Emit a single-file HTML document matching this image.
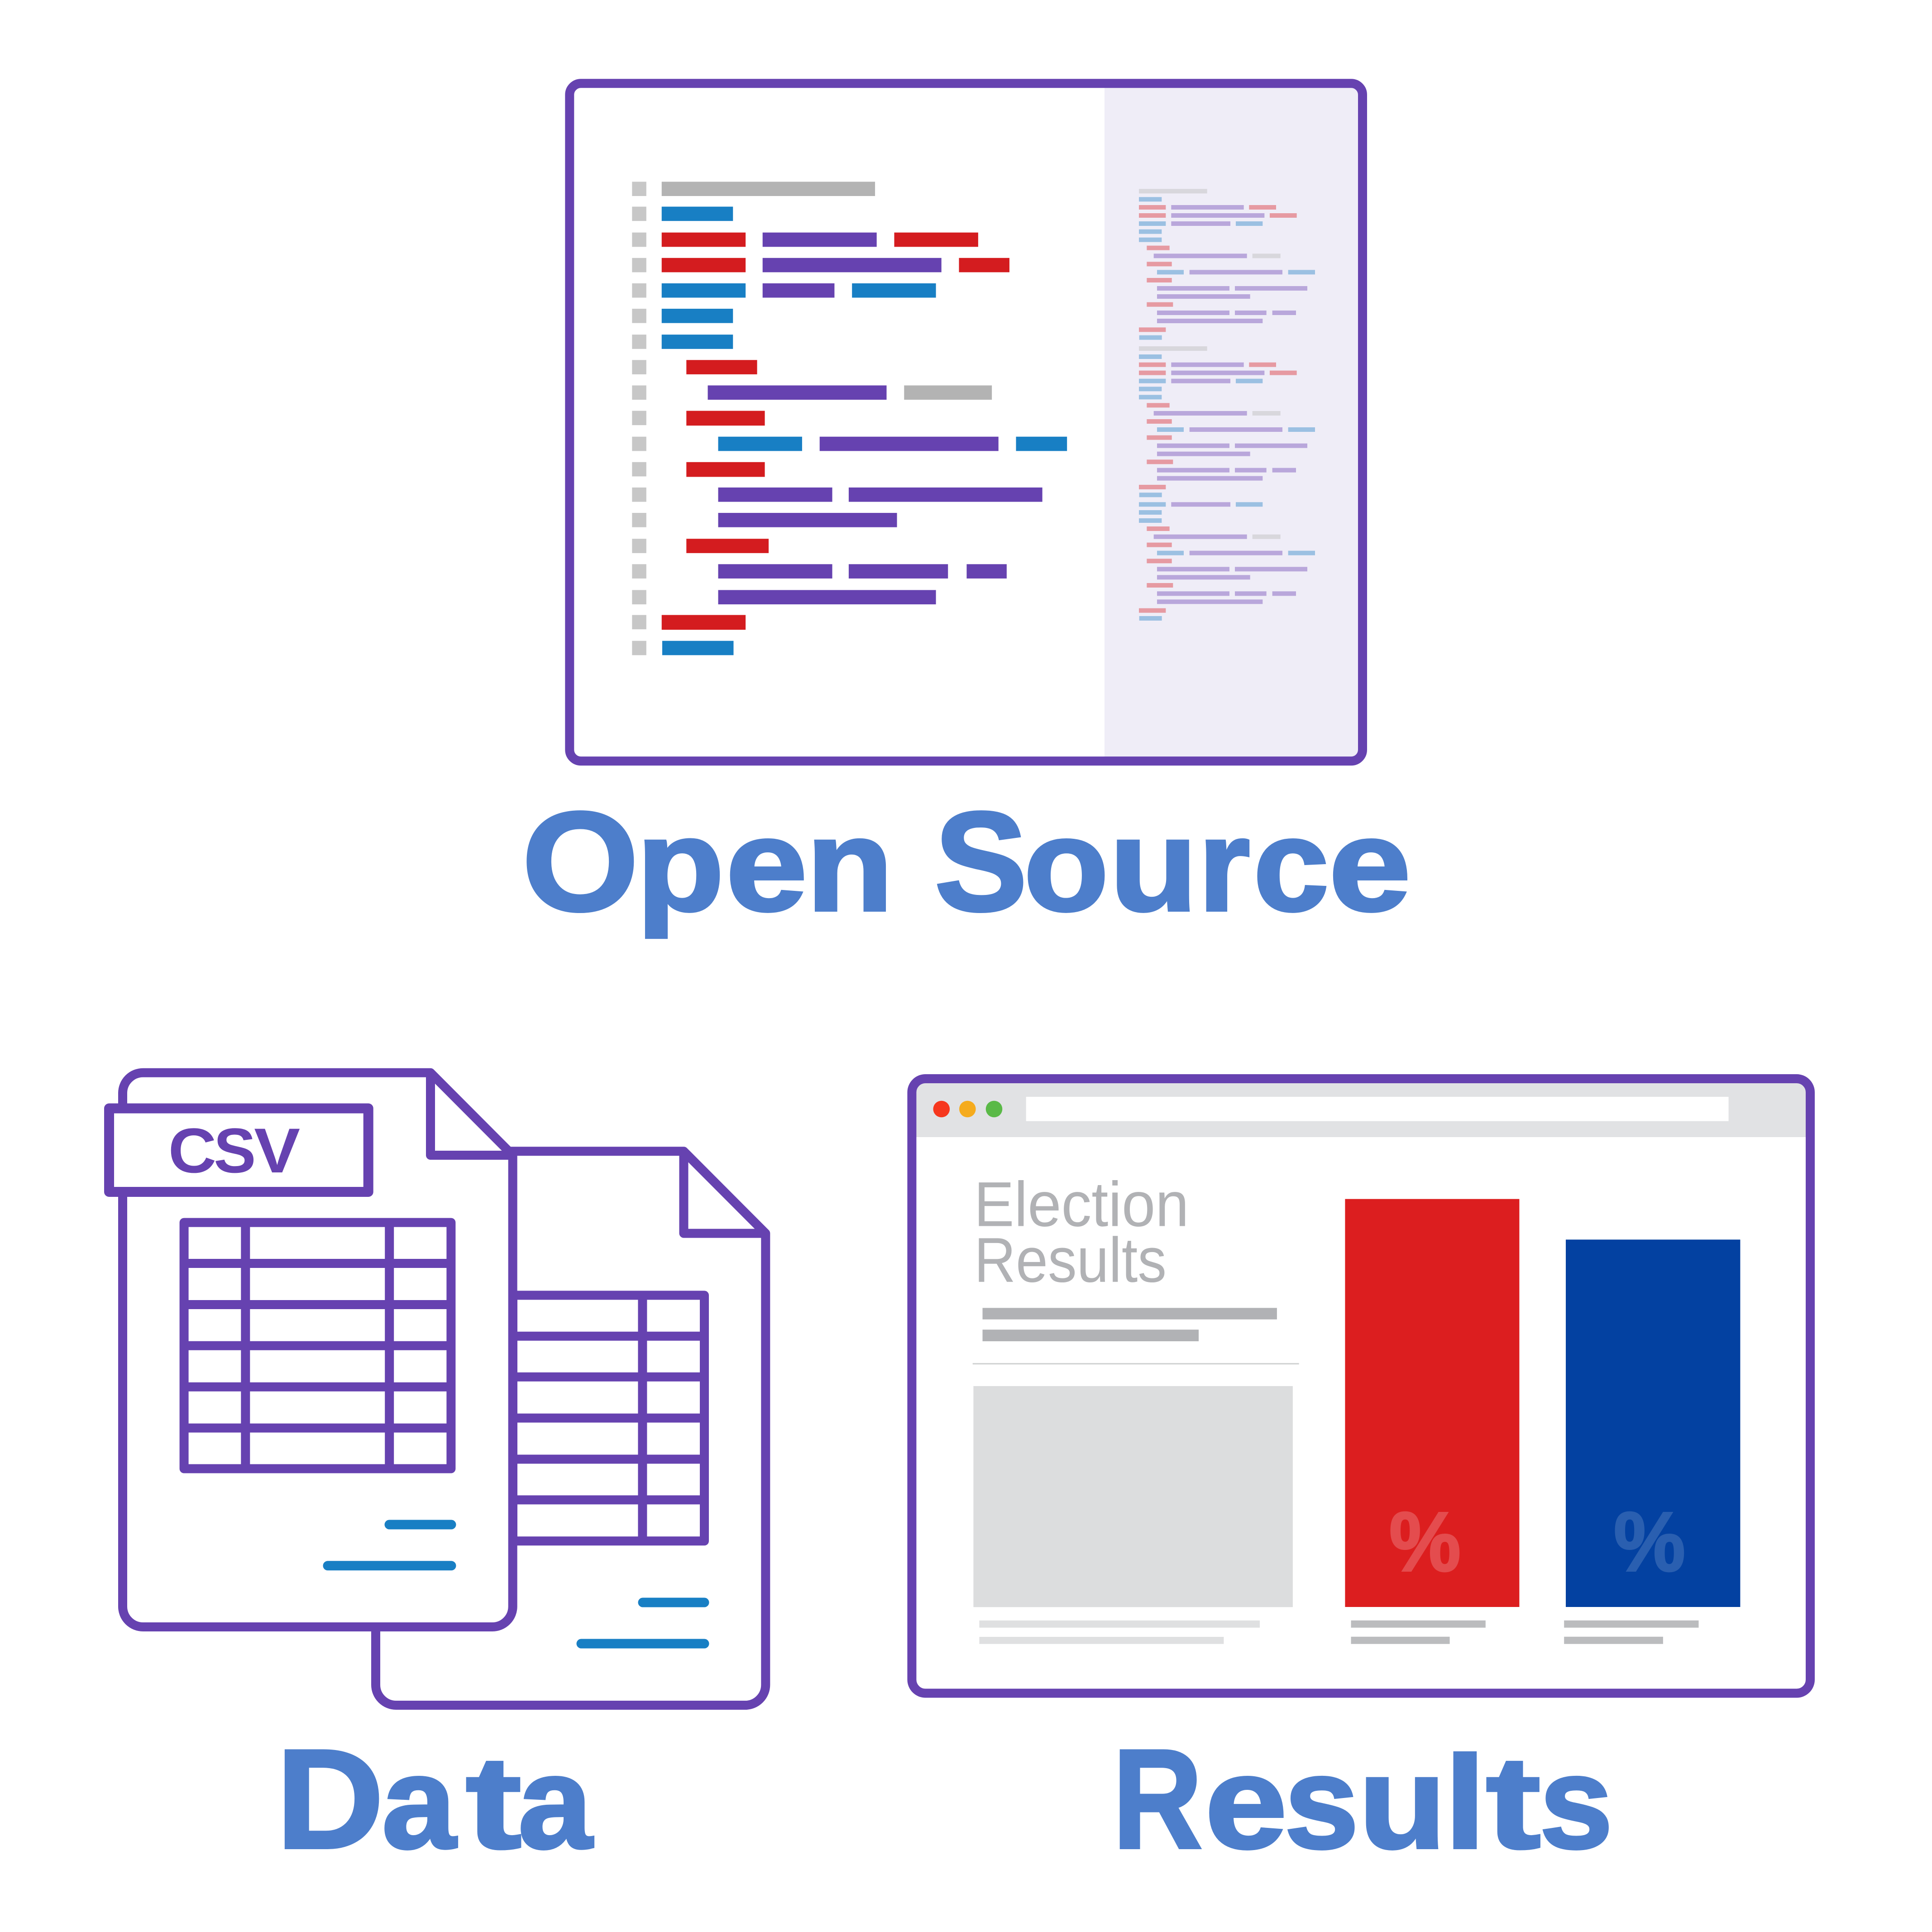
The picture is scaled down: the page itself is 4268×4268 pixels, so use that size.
<!DOCTYPE html>
<html lang="en">
<head>
<meta charset="utf-8">
<title>Open Source, Data, Results</title>
<style>
html,body{margin:0;padding:0;background:#fff}
svg{display:block}
.r{fill:#d41c1f}.p{fill:#6642b0}.b{fill:#187fc4}.g{fill:#b3b3b3}.q{fill:#c7c7c7}
.mr{fill:#e69aa2}.mp{fill:#b9a7db}.mb{fill:#9bc0e2}.mg{fill:#d8d7dc}
.h{font-family:"Liberation Sans",sans-serif;font-weight:700;font-size:290px;fill:#4d7ecb;stroke:#4d7ecb;stroke-width:6px;stroke-linejoin:miter}
.l{fill:#fff;stroke:#6642b0;stroke-width:20px;stroke-linejoin:round;stroke-linecap:round}
.n{fill:none;stroke:#6642b0;stroke-width:20px;stroke-linejoin:round;stroke-linecap:butt}
.t{fill:none;stroke:#187fc4;stroke-width:21px;stroke-linecap:round}
</style>
</head>
<body>
<svg xmlns="http://www.w3.org/2000/svg" width="4268" height="4268" viewBox="0 0 4268 4268">
<rect width="4268" height="4268" fill="#fff"/>

<!-- Open source window -->
<rect x="1258.3" y="184.3" width="1751.7" height="1497" rx="25" fill="#fff"/>
<path d="M2440 184.3H2985a25 25 0 0 1 25 25V1656a25 25 0 0 1-25 25H2440Z" fill="#efedf7"/>
<rect x="1258.3" y="184.3" width="1751.7" height="1497" rx="25" fill="none" stroke="#6642b0" stroke-width="20"/>

<g transform="translate(1200 130) scale(1.2117 1.0204)">
<g class="q">
<rect x="162" y="266" width="26" height="31"/><rect x="162" y="320" width="26" height="31"/><rect x="162" y="376" width="26" height="31"/><rect x="162" y="431" width="26" height="31"/><rect x="162" y="486" width="26" height="31"/><rect x="162" y="541" width="26" height="31"/><rect x="162" y="597" width="26" height="31"/><rect x="162" y="652" width="26" height="31"/><rect x="162" y="707" width="26" height="31"/><rect x="162" y="762" width="26" height="31"/><rect x="162" y="818" width="26" height="31"/><rect x="162" y="873" width="26" height="31"/><rect x="162" y="928" width="26" height="31"/><rect x="162" y="983" width="26" height="31"/><rect x="162" y="1039" width="26" height="31"/><rect x="162" y="1094" width="26" height="31"/><rect x="162" y="1150" width="26" height="31"/><rect x="162" y="1204" width="26" height="31"/><rect x="162" y="1260" width="26" height="31"/>
</g>
<rect class="g" x="216" y="266" width="389" height="31"/>
<rect class="b" x="216" y="320" width="130" height="31"/>
<rect class="r" x="216" y="376" width="153" height="31"/><rect class="p" x="400" y="376" width="208" height="31"/><rect class="r" x="640" y="376" width="153" height="31"/>
<rect class="r" x="216" y="431" width="153" height="31"/><rect class="p" x="400" y="431" width="326" height="31"/><rect class="r" x="758" y="431" width="92" height="31"/>
<rect class="b" x="216" y="486" width="153" height="31"/><rect class="p" x="400" y="486" width="131" height="31"/><rect class="b" x="563" y="486" width="153" height="31"/>
<rect class="b" x="216" y="541" width="130" height="31"/>
<rect class="b" x="216" y="597" width="130" height="31"/>
<rect class="r" x="261" y="652" width="129" height="31"/>
<rect class="p" x="300" y="707" width="326" height="31"/><rect class="g" x="658" y="707" width="160" height="31"/>
<rect class="r" x="261" y="762" width="143" height="32"/>
<rect class="b" x="319" y="818" width="153" height="31"/><rect class="p" x="504" y="818" width="326" height="31"/><rect class="b" x="862" y="818" width="93" height="31"/>
<rect class="r" x="261" y="873" width="143" height="32"/>
<rect class="p" x="319" y="928" width="208" height="31"/><rect class="p" x="557" y="928" width="353" height="31"/>
<rect class="p" x="319" y="983" width="326" height="31"/>
<rect class="r" x="261" y="1039" width="150" height="31"/>
<rect class="p" x="319" y="1094" width="208" height="31"/><rect class="p" x="557" y="1094" width="181" height="31"/><rect class="p" x="772" y="1094" width="73" height="31"/>
<rect class="p" x="319" y="1150" width="397" height="31"/>
<rect class="r" x="216" y="1204" width="153" height="32"/>
<rect class="b" x="217" y="1260" width="130" height="31"/>
</g>

<!-- Minimap -->
<defs>
<g id="m1">
<rect class="mg" x="108" y="112" width="452" height="30"/>
<rect class="mb" x="108" y="166" width="151" height="30"/>
<rect class="mr" x="108" y="219" width="178" height="30"/><rect class="mp" x="322" y="219" width="481" height="30"/><rect class="mr" x="838" y="219" width="179" height="30"/>
<rect class="mr" x="108" y="273" width="178" height="30"/><rect class="mp" x="322" y="273" width="618" height="30"/><rect class="mr" x="975" y="273" width="179" height="30"/>
</g>
<g id="m2">
<rect class="mb" x="108" y="327" width="178" height="30"/><rect class="mp" x="322" y="327" width="392" height="30"/><rect class="mb" x="750" y="327" width="178" height="30"/>
<rect class="mb" x="108" y="380" width="151" height="30"/>
<rect class="mb" x="108" y="434" width="151" height="30"/>
<rect class="mr" x="160" y="488" width="151" height="30"/>
<rect class="mp" x="206" y="541" width="618" height="30"/><rect class="mg" x="860" y="541" width="186" height="30"/>
<rect class="mr" x="160" y="595" width="166" height="30"/>
<rect class="mb" x="228" y="649" width="177" height="30"/><rect class="mp" x="443" y="649" width="616" height="30"/><rect class="mb" x="1097" y="649" width="178" height="30"/>
<rect class="mr" x="160" y="702" width="166" height="30"/>
<rect class="mp" x="228" y="756" width="480" height="30"/><rect class="mp" x="744" y="756" width="480" height="30"/>
<rect class="mp" x="228" y="810" width="617" height="30"/>
<rect class="mr" x="160" y="863" width="174" height="30"/>
<rect class="mp" x="228" y="918" width="480" height="30"/><rect class="mp" x="744" y="918" width="209" height="30"/><rect class="mp" x="992" y="918" width="157" height="30"/>
<rect class="mp" x="228" y="972" width="700" height="30"/>
<rect class="mr" x="108" y="1030" width="178" height="30"/>
<rect class="mb" x="110" y="1082" width="150" height="30"/>
</g>
</defs>
<g transform="translate(2480 380) scale(.33333)">
<use href="#m1"/><use href="#m2"/>
<g transform="translate(0 1043)"><use href="#m1"/><use href="#m2"/></g>
<g transform="translate(0 1861)"><use href="#m2"/></g>
</g>

<!-- Headings -->
<text class="h" y="2011"><tspan font-size="312" x="1153" textLength="258" lengthAdjust="spacingAndGlyphs">O</tspan><tspan x="1406.1" textLength="193.8" lengthAdjust="spacingAndGlyphs">p</tspan><tspan x="1603.4" textLength="180.1" lengthAdjust="spacingAndGlyphs">e</tspan><tspan x="1781.3" textLength="192" lengthAdjust="spacingAndGlyphs">n</tspan> <tspan font-size="312" x="2064.5" textLength="205" lengthAdjust="spacingAndGlyphs">S</tspan><tspan x="2261.6" textLength="187.6" lengthAdjust="spacingAndGlyphs">o</tspan><tspan x="2450.9" textLength="194.9" lengthAdjust="spacingAndGlyphs">u</tspan><tspan x="2647.2" textLength="114.4" lengthAdjust="spacingAndGlyphs">r</tspan><tspan x="2768.8" textLength="166.8" lengthAdjust="spacingAndGlyphs">c</tspan><tspan x="2935.5" textLength="181.3" lengthAdjust="spacingAndGlyphs">e</tspan></text>
<text class="h" y="4082"><tspan font-size="312" x="610" textLength="238" lengthAdjust="spacingAndGlyphs">D</tspan><tspan x="843.7" textLength="163.5" lengthAdjust="spacingAndGlyphs">a</tspan><tspan x="1029" textLength="123.1" lengthAdjust="spacingAndGlyphs">t</tspan><tspan x="1144.7" textLength="163.5" lengthAdjust="spacingAndGlyphs">a</tspan></text>
<text class="h" y="4082"><tspan font-size="312" x="2458" textLength="198" lengthAdjust="spacingAndGlyphs">R</tspan><tspan x="2661.9" textLength="181.5" lengthAdjust="spacingAndGlyphs">e</tspan><tspan x="2837.4" textLength="164.2" lengthAdjust="spacingAndGlyphs">s</tspan><tspan x="3001.3" textLength="193.4" lengthAdjust="spacingAndGlyphs">u</tspan><tspan x="3191.1" textLength="90.9" lengthAdjust="spacingAndGlyphs">l</tspan><tspan x="3282.8" textLength="120.8" lengthAdjust="spacingAndGlyphs">t</tspan><tspan x="3401.1" textLength="161.7" lengthAdjust="spacingAndGlyphs">s</tspan></text>

<!-- Data icon: back document -->
<path class="l" d="M1510.5 2543.3H830V3722a45 45 0 0 0 45 45H1646.3a45 45 0 0 0 45-45V2724.6Z"/>
<path class="n" d="M1510.5 2543.3V2724.6H1691.3"/>
<rect class="l" x="1133" y="2861.4" width="423" height="542.9"/>
<path class="n" d="M1133 2951.8H1556M1133 3041.7H1556M1133 3132.6H1556M1133 3223.5H1556M1133 3313.4H1556M1419.4 2861.4V3404.3"/>
<path class="t" d="M1420 3540H1556M1284 3631H1556"/>

<!-- Data icon: front document -->
<path class="l" d="M951 2369.7H316a45 45 0 0 0-45 45V3549a45 45 0 0 0 45 45H1087.7a45 45 0 0 0 45-45V2552Z"/>
<path class="n" d="M951 2369.7V2552H1132.7"/>
<rect x="241" y="2448.5" width="572.7" height="184.5" fill="#fff" stroke="#6642b0" stroke-width="22" stroke-linejoin="round"/>
<text y="2590" font-family="'Liberation Sans',sans-serif" font-weight="700" font-size="140" fill="#6642b0"><tspan x="371.7" textLength="106.4" lengthAdjust="spacingAndGlyphs">C</tspan><tspan x="472.1" textLength="93.4" lengthAdjust="spacingAndGlyphs">S</tspan><tspan x="561.2" textLength="101.9" lengthAdjust="spacingAndGlyphs">V</tspan></text>
<rect class="l" x="406.6" y="2700.6" width="589.8" height="543.9"/>
<path class="n" d="M406.6 2791H996.4M406.6 2882H996.4M406.6 2972.8H996.4M406.6 3063.7H996.4M406.6 3154.6H996.4M542.3 2700.6V3244.5M860.2 2700.6V3244.5"/>
<path class="t" d="M860 3368H997M724 3458.8H997"/>

<!-- Results browser -->
<rect x="2014.4" y="2383" width="1984.6" height="1357.5" rx="30" fill="#fff"/>
<path d="M2014.4 2512V2413a30 30 0 0 1 30-30H3969a30 30 0 0 1 30 30V2512Z" fill="#e1e2e4"/>
<rect x="2014.4" y="2383" width="1984.6" height="1357.5" rx="30" fill="none" stroke="#6642b0" stroke-width="20"/>
<circle cx="2079.8" cy="2450" r="18.3" fill="#f6371e"/>
<circle cx="2137.3" cy="2450" r="18.3" fill="#f5ab1d"/>
<circle cx="2196" cy="2450" r="18.3" fill="#5ab947"/>
<rect x="2266.7" y="2423" width="1551.9" height="53.7" fill="#fff"/>

<text x="2151.5" y="2708.5" font-family="'Liberation Sans',sans-serif" font-size="140" fill="#b1b2b5" textLength="475" lengthAdjust="spacingAndGlyphs">Election</text>
<text x="2152" y="2831.7" font-family="'Liberation Sans',sans-serif" font-size="140" fill="#b1b2b5" textLength="425" lengthAdjust="spacingAndGlyphs">Results</text>
<rect x="2170.5" y="2889.3" width="650.4" height="25.4" fill="#b1b2b5"/>
<rect x="2170.5" y="2937.3" width="477.5" height="25.7" fill="#b1b2b5"/>
<rect x="2148.7" y="3011" width="721" height="3.3" fill="#d3d5d5"/>
<rect x="2150.4" y="3062" width="705.5" height="488.3" fill="#dcddde"/>
<rect x="2163.4" y="3579.8" width="619.6" height="15.9" fill="#dfe0e1"/>
<rect x="2163.4" y="3616" width="540" height="15.7" fill="#dfe0e1"/>

<rect x="2971.4" y="2648.7" width="385" height="901.3" fill="#dc1e1f"/>
<rect x="3459" y="2738.4" width="385.4" height="811.6" fill="#0341a1"/>
<text x="3069" y="3470" font-family="'Liberation Sans',sans-serif" font-weight="700" font-size="186" fill="#e44c4e" stroke="#e44c4e" stroke-width="4" textLength="158" lengthAdjust="spacingAndGlyphs">%</text>
<text x="3565" y="3470" font-family="'Liberation Sans',sans-serif" font-weight="700" font-size="186" fill="#2a5fb0" stroke="#2a5fb0" stroke-width="4" textLength="158" lengthAdjust="spacingAndGlyphs">%</text>
<rect x="2984.5" y="3579.7" width="297.3" height="16" fill="#bbbcbe"/>
<rect x="2984.5" y="3615.7" width="218.1" height="16" fill="#bbbcbe"/>
<rect x="3455.2" y="3579.7" width="297.3" height="16" fill="#bbbcbe"/>
<rect x="3455.2" y="3615.7" width="218.7" height="16" fill="#bbbcbe"/>
</svg>
</body>
</html>
